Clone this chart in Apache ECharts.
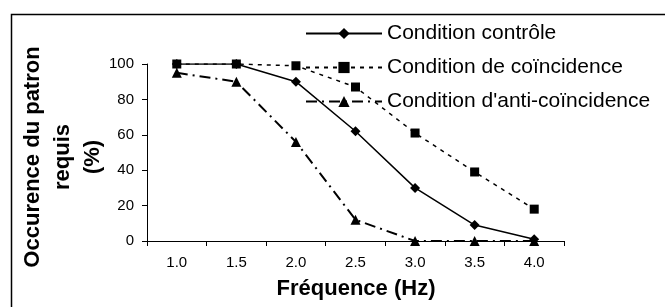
<!DOCTYPE html>
<html>
<head>
<meta charset="utf-8">
<script src="https://cdn.jsdelivr.net/npm/echarts@6/dist/echarts.min.js"></script>
<style>
  html, body { margin: 0; padding: 0; background: #fff; }
  #chart { width: 665px; height: 307px; }
</style>
</head>
<body>
<div id="chart"></div>
<script>
const frequencies = ['1.0', '1.5', '2.0', '2.5', '3.0', '3.5', '4.0']
const controle = [100, 100, 90, 62, 30, 9, 1]
const coincidence = [100, 100, 99, 87, 61, 39, 18]
const antiCoincidence = [95, 90, 56, 12, 0, 0, 0]

const FONT = '"Liberation Sans", Arial, sans-serif'

const chart = echarts.init(document.getElementById('chart'), null, { renderer: 'canvas' })

chart.setOption({
  backgroundColor: '#fff',
  animation: false,
  grid: { left: 147, right: 101, top: 64, bottom: 66 },
  legend: {
    orient: 'vertical',
    left: 305,
    top: 23,
    padding: 0,
    itemWidth: 76,
    itemHeight: 14,
    itemGap: 13,
    textStyle: { fontFamily: FONT, fontSize: 21, color: '#000', lineHeight: 20 },
    data: ['Condition contrôle', 'Condition de coïncidence', "Condition d'anti-coïncidence"],
  },
  xAxis: {
    type: 'category',
    data: frequencies,
    boundaryGap: true,
    axisLine: { lineStyle: { color: '#000', width: 1 } },
    axisTick: { show: true, length: 5, lineStyle: { color: '#000' } },
    axisLabel: { fontFamily: FONT, fontSize: 15, color: '#000', margin: 14 },
    splitLine: { show: false },
  },
  yAxis: {
    type: 'value',
    min: 0,
    max: 100,
    interval: 20,
    axisLine: { show: true, lineStyle: { color: '#000', width: 1 } },
    axisTick: { show: true, length: 5, lineStyle: { color: '#000' } },
    axisLabel: { fontFamily: FONT, fontSize: 15, color: '#000', margin: 13 },
    splitLine: { show: false },
  },
  graphic: [
    {
      type: 'rect',
      shape: { x: 11.5, y: 14.5, width: 800, height: 500 },
      style: { fill: 'none', stroke: '#000', lineWidth: 1.5 },
      silent: true,
    },
    {
      type: 'text',
      x: 63,
      y: 157,
      rotation: Math.PI / 2,
      style: {
        text: 'Occurence du patron\nrequis\n(%)',
        font: 'bold 22px ' + FONT,
        fill: '#000',
        align: 'center',
        verticalAlign: 'middle',
        lineHeight: 30,
      },
    },
    {
      type: 'text',
      x: 356,
      y: 289,
      style: {
        text: 'Fréquence (Hz)',
        font: 'bold 22px ' + FONT,
        fill: '#000',
        align: 'center',
        verticalAlign: 'middle',
      },
    },
  ],
  series: [
    {
      name: 'Condition contrôle',
      type: 'line',
      data: controle,
      symbol: 'diamond',
      symbolSize: 10,
      lineStyle: { color: '#000', width: 1.5, type: 'solid' },
      itemStyle: { color: '#000' },
      z: 3,
    },
    {
      name: 'Condition de coïncidence',
      type: 'line',
      data: coincidence,
      symbol: 'rect',
      symbolSize: 9,
      lineStyle: { color: '#000', width: 1.5, type: [4, 5] },
      itemStyle: { color: '#000' },
      z: 2,
    },
    {
      name: "Condition d'anti-coïncidence",
      type: 'line',
      data: antiCoincidence,
      symbol: 'triangle',
      symbolSize: 10,
      lineStyle: { color: '#000', width: 2, type: [11, 5, 2, 5] },
      itemStyle: { color: '#000' },
      z: 2,
    },
  ],
})
</script>
</body>
</html>
